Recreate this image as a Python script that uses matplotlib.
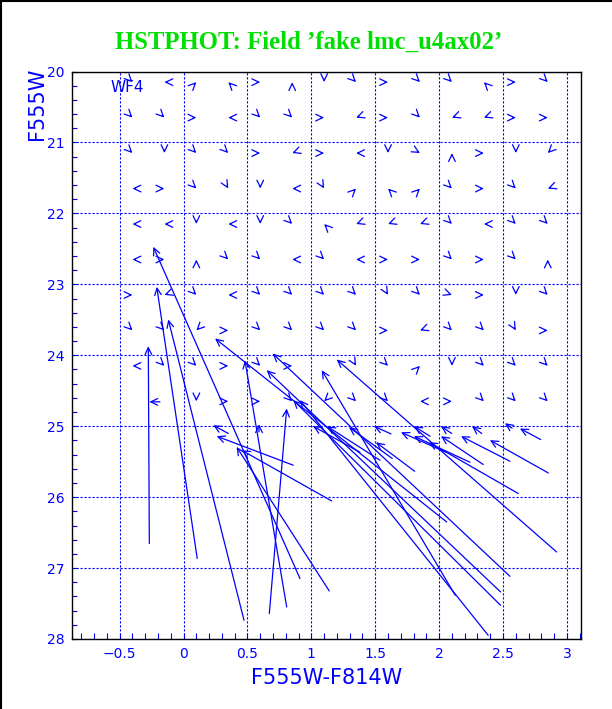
import matplotlib
matplotlib.use("Agg")
import matplotlib.pyplot as plt
from matplotlib.ticker import MultipleLocator, FuncFormatter
from matplotlib.lines import Line2D
import numpy as np

# ---------------- data ----------------
title = "HSTPHOT: Field \u2019fake lmc_u4ax02\u2019"
xlabel = "F555W-F814W"
ylabel = "F555W"
chip = "WF4"

# input grid of fake stars that were recovered well (drawn as tiny arrows)
grid_x = [-0.4, -0.15, 0.1, 0.35, 0.6, 0.85, 1.1, 1.35, 1.6, 1.85, 2.1, 2.35, 2.6, 2.85]
grid_y = [20.15, 20.65, 21.15, 21.65, 22.15, 22.65, 23.15, 23.65, 24.15, 24.65]
# direction of the small offset on screen (deg, 0=right, 90=up); None = not drawn
grid_dir = [
    [315, 180, 45, 135, 0, 90, 270, 315, 0, 315, 315, 135, 0, 315],
    [315, 315, 0, 180, 315, 315, 0, 200, 0, 315, 200, 200, 0, 0],
    [315, 270, 315, 315, 0, 200, 0, 180, 270, 330, 90, 0, 270, 225],
    [180, 0, 315, 300, 270, 180, 300, 45, 135, 45, 315, 0, 315, 200],
    [180, 180, 270, 180, 270, 315, 135, 200, 200, 200, 315, 180, 315, 315],
    [180, 0, 90, 315, 315, 180, 315, 180, 0, 0, 315, 0, 315, 90],
    [0, 200, 315, 180, 315, 315, 315, 315, 300, 315, 340, 0, 270, 315],
    [315, 315, 225, 0, 315, 315, 315, 315, 0, 200, 315, 315, 300, 0],
    [180, 315, 315, 0, 315, 0, None, 300, 315, 45, 270, 315, 315, 315],
    [None, None, 270, 0, 0, 315, 225, 315, 315, 180, 0, 315, 315, 315],
]

# badly recovered fakes: arrows from tail to head
tail_x = [-0.268, 0.107, 0.473, 0.911, 0.671, 0.807, 1.140, 0.858, 0.350, 1.159,
          2.554, 2.481, 2.481, 2.126, 2.384, 2.919, 2.059, 2.794, 2.854, 2.554,
          2.345, 2.619, 1.808, 1.633, 1.623, 2.098, 2.333, 2.570, 2.053, 1.928,
          2.241, 1.380, 1.537, -0.185, 0.590]
tail_y = [26.654, 26.866, 27.736, 27.148, 27.642, 27.549, 27.323, 25.550, 25.103, 26.054,
          27.116, 27.337, 27.525, 27.384, 27.948, 26.773, 26.350, 25.188, 25.659, 25.494,
          25.540, 25.949, 25.635, 25.455, 25.109, 25.103, 25.103, 25.028, 25.367, 25.141,
          25.508, 25.367, 25.480, 24.657, 25.080]
head_x = [-0.276, -0.210, -0.120, -0.237, 0.807, 0.480, 0.415, 0.259, 0.232, 0.455,
          0.697, 0.650, 0.858, 1.081, 0.911, 1.198, 0.246, 2.632, 2.397, 2.171,
          2.014, 1.920, 1.505, 1.294, 1.490, 2.014, 2.257, 2.515, 1.701, 1.803,
          1.803, 1.013, 1.122, -0.268, 0.590]
head_y = [23.872, 23.035, 23.495, 22.471, 24.750, 24.071, 25.292, 25.141, 24.986, 25.339,
          23.975, 24.210, 24.633, 24.210, 24.633, 24.059, 23.763, 25.032, 25.197, 25.141,
          25.141, 25.226, 25.226, 25.014, 25.000, 25.000, 25.000, 24.958, 25.085, 25.000,
          25.141, 25.000, 25.000, 24.657, 24.972]

x_range = (-0.877, 3.11)
y_range = (28, 20)

# ---------------- drawing ----------------
BLUE = "#0000ff"
W, H = 612, 709
fig = plt.figure(figsize=(W / 100, H / 100), dpi=100)
ax = fig.add_axes([71.5 / W, 1 - 639 / H, (581 - 71.5) / W, (639 - 71.5) / H])
ax.set_xlim(*x_range)
ax.set_ylim(*y_range)

for s in ax.spines.values():
    s.set_color("black")
    s.set_linewidth(1.0)

ax.xaxis.set_major_locator(MultipleLocator(0.5))
ax.xaxis.set_minor_locator(MultipleLocator(0.1))
ax.yaxis.set_major_locator(MultipleLocator(1))
ax.yaxis.set_minor_locator(MultipleLocator(0.2))


def fmt(v, pos):
    s = ("%g" % v)
    return s.replace("-", "\u2212")


ax.xaxis.set_major_formatter(FuncFormatter(fmt))
ax.yaxis.set_major_formatter(FuncFormatter(fmt))
ax.tick_params(which="both", direction="in", color=BLUE, labelcolor=BLUE,
               top=False, right=False, labelsize=10)
ax.tick_params(axis="x", which="both", length=4.5, width=0.8, pad=6)
ax.tick_params(axis="y", which="both", length=3.8, width=0.8, pad=5)

ax.grid(True, which="major", color=BLUE, linestyle=(0, (2, 1.6)), linewidth=0.8)
ax.set_axisbelow(True)

ax.set_xlabel(xlabel, color=BLUE, fontsize=15, labelpad=5)
fig.text(37 / W, 1 - 104 / H, ylabel, rotation=90, color=BLUE, fontsize=15,
         ha="center", va="center")
fig.text(309 / W, 1 - 42 / H, title, color="#00e000", fontsize=17.8,
         family="Liberation Serif", weight="bold", ha="center", va="center")
ax.text(-0.439, 20.226, chip, color=BLUE, fontsize=11, ha="center", va="center")

aprops = dict(arrowstyle="->,head_length=0.5,head_width=0.24", color=BLUE, lw=0.9,
              shrinkA=0, shrinkB=0, mutation_scale=10)

# tiny arrows on the grid
L = 3.0
for j, yv in enumerate(grid_y):
    for i, xv in enumerate(grid_x):
        a = grid_dir[j][i]
        if a is None:
            continue
        r = np.deg2rad(a)
        ax.annotate("", xy=(xv, yv), xycoords="data",
                    xytext=(-L * np.cos(r), -L * np.sin(r)), textcoords="offset pixels",
                    arrowprops=aprops)

# long arrows
for tx, ty, hx, hy in zip(tail_x, tail_y, head_x, head_y):
    ax.annotate("", xy=(hx, hy), xycoords="data", xytext=(tx, ty), textcoords="data",
                arrowprops=aprops)

# figure frame (left and top)
fig.add_artist(Line2D([0.5 / W, 0.5 / W], [0, 1], color="black", lw=1.5,
                      transform=fig.transFigure))
fig.add_artist(Line2D([0, 1], [1 - 0.5 / H, 1 - 0.5 / H], color="black", lw=1.5,
                      transform=fig.transFigure))

fig.savefig("out.png", dpi=100)
